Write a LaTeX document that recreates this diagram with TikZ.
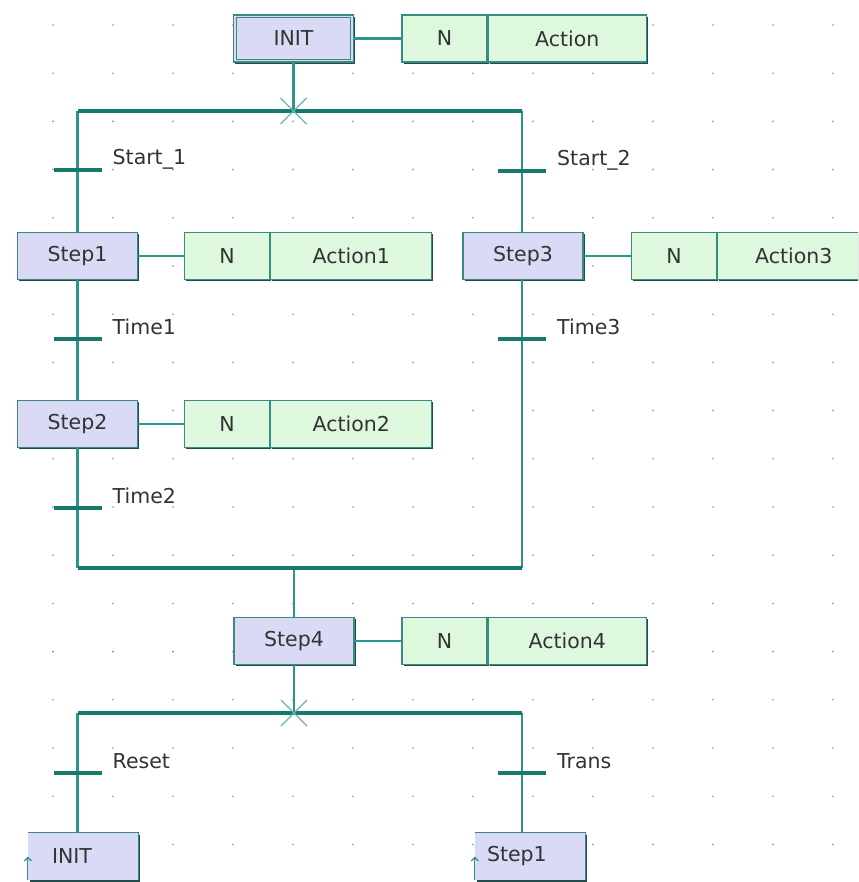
\documentclass[tikz,border=0pt]{standalone}
\usepackage{fontspec}
\setmainfont{DejaVu Sans}
\usepackage{tikz}
\usetikzlibrary{arrows.meta,positioning,shadows}
\definecolor{sfcline}{HTML}{2A968C}
\definecolor{sfcbar}{HTML}{17786C}
\definecolor{boxline}{HTML}{3A8A84}
\definecolor{stepfill}{HTML}{DADAF7}
\definecolor{actfill}{HTML}{DDF8DD}
\definecolor{griddot}{HTML}{8C8C8C}

\begin{document}
\begin{tikzpicture}[x=1pt,y=-1pt, font=\fontsize{20.5}{24}\selectfont,
    link/.style={sfcline, line width=2.2pt},
    sbar/.style={sfcbar, line width=4.8pt},
    tbar/.style={sfcbar, line width=4.2pt},
    xmark/.style={sfcline!70, line width=1.2pt},
    shade3d/.style={drop shadow={shadow xshift=1.6pt, shadow yshift=-1.6pt,
                    fill=boxline!55!black, opacity=1}},
    stepbox/.style={draw=boxline, line width=1.3pt, fill=stepfill, shade3d,
                    minimum width=120pt, minimum height=47pt, inner sep=0pt,
                    text=black!80},
    actbox/.style={draw=boxline, line width=1.3pt, fill=actfill, shade3d,
                   minimum height=47pt, inner sep=0pt, text=black!80},
    jumpbox/.style={fill=stepfill, shade3d, minimum width=110pt,
                    minimum height=47pt, inner xsep=12pt, inner ysep=0pt,
                    text width=86pt, align=left, text=black!80},
    tlabel/.style={anchor=base west, inner sep=0pt, text=black!80}]

  \useasboundingbox (0,0) rectangle (858,882);
  \fill[white] (0,0) rectangle (858,882);
  \clip (0,0) rectangle (858,882);

  % ----- grade de pontos -----
  \foreach \i in {0,...,13}
    \foreach \j in {0,...,17}
      \fill[griddot] (53+60*\i, 25+48.2*\j) circle (0.9);

  % ----- macros: par de acao e transicao -----
  \newcommand{\actpair}[5]{% nome, x da parte N, y, largura do nome, texto
    \node[actbox, minimum width=85pt] (#1q) at (#2,#3) {N};
    \node[actbox, minimum width=#4, right=0pt of #1q] (#1) {#5};
  }
  \newcommand{\trans}[4]{% nome, x, y, rotulo
    \coordinate (#1) at (#2,#3);
    \draw[tbar] (#2-24,#3) -- (#2+24,#3);
    \node[tlabel] (#1l) at (#2+35,#3-5) {#4};
  }

  % ----- ramificacoes -----
  \coordinate (d1) at (293.5,111);
  \coordinate (d1L) at (77.5,111);
  \coordinate (d1R) at (522,111);
  \coordinate (c1) at (294,568);
  \coordinate (c1L) at (77.5,568);
  \coordinate (c1R) at (522,568);
  \coordinate (d2) at (294,713);
  \coordinate (d2L) at (77.5,713);
  \coordinate (d2R) at (522,713);

  % ----- passos -----
  \node[stepbox, line width=1.6pt] (init) at (293.5,38.5) {INIT};
  \draw[boxline, line width=1.1pt] ([shift={(3.5pt,-3.5pt)}]init.north west)
    rectangle ([shift={(-3.5pt,3.5pt)}]init.south east);
  \node[stepbox] (s1) at (77.5,256) {Step1};
  \node[stepbox] (s2) at (77.5,424) {Step2};
  \node[stepbox] (s3) at (523,256) {Step3};
  \node[stepbox] (s4) at (294,641) {Step4};

  % ----- ligacoes -----
  \draw[link] (init.south) -- (d1);
  \draw[link] (d1L) -- (s1.north);
  \draw[link] (s1.south) -- (s2.north);
  \draw[link] (s2.south) -- (c1L);
  \draw[link] (d1R) -- (d1R |- s3.north);
  \draw[link] (d1R |- s3.south) -- (c1R);
  \draw[link] (c1) -- (s4.north);
  \draw[link] (s4.south) -- (d2);

  % ----- acoes -----
  \actpair{a0}{444.5}{38.5}{158pt}{Action}
  \actpair{a1}{227}{256}{161pt}{Action1}
  \actpair{a2}{227}{424}{161pt}{Action2}
  \actpair{a3}{674}{256}{152pt}{Action3}
  \actpair{a4}{444.5}{641}{158pt}{Action4}
  \draw[link] (init.east) -- (a0q.west);
  \draw[link] (s1.east) -- (a1q.west);
  \draw[link] (s2.east) -- (a2q.west);
  \draw[link] (s3.east) -- (a3q.west);
  \draw[link] (s4.east) -- (a4q.west);

  % ----- saltos -----
  \node[jumpbox] (j1) at (83,856.5) {\hspace*{12pt}INIT};
  \node[jumpbox] (j2) at (530,856.5) {Step1};
  \foreach \j in {j1,j2} {
    \draw[boxline, line width=1.3pt] (\j.north west) -- (\j.north east) -- (\j.south east);
    \draw[sfcline, line width=1.3pt, -{Straight Barb[length=3.5pt,width=7pt]}]
      (\j.south west) -- (\j.west);
  }
  \draw[link] (d2L) -- (d2L |- j1.north);
  \draw[link] (d2R) -- (d2R |- j2.north);

  % ----- barras -----
  \draw[sbar] (d1L) -- (d1R);
  \draw[sbar] (c1L) -- (c1R);
  \draw[sbar] (d2L) -- (d2R);
  \draw[xmark] (d1) +(-13,-13) -- +(13,13) (d1) +(-13,13) -- +(13,-13);
  \draw[xmark] (d2) +(-13,-13) -- +(13,13) (d2) +(-13,13) -- +(13,-13);

  % ----- transicoes -----
  \trans{t1}{77.5}{170}{Start\_1}
  \trans{t2}{522}{171}{Start\_2}
  \trans{t3}{77.5}{339}{Time1}
  \trans{t4}{522}{339}{Time3}
  \trans{t5}{77.5}{508}{Time2}
  \trans{t6}{77.5}{773}{Reset}
  \trans{t7}{522}{773}{Trans}

\end{tikzpicture}
\end{document}
